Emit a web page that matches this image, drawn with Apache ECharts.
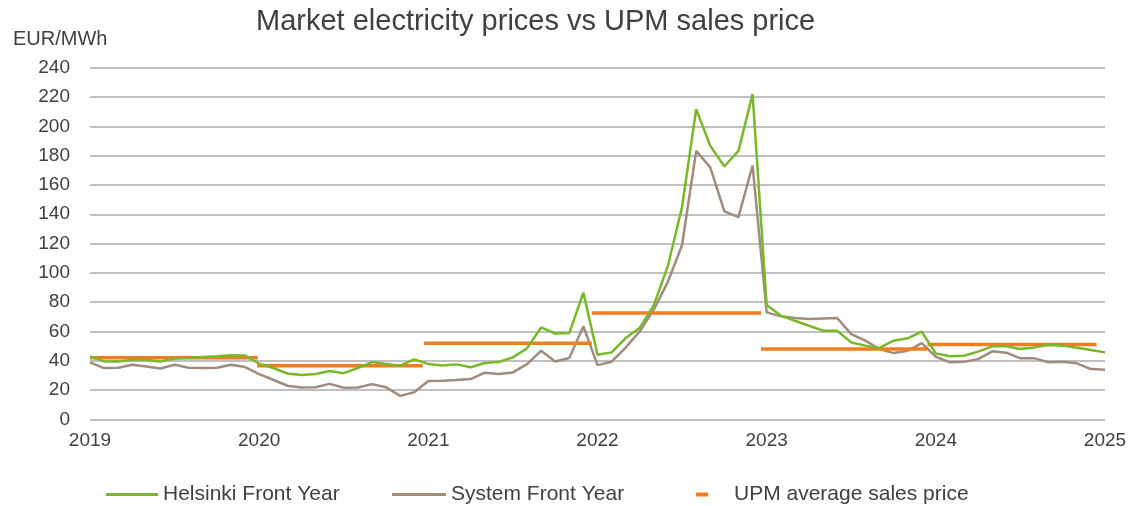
<!DOCTYPE html>
<html>
<head>
<meta charset="utf-8">
<script src="https://cdn.jsdelivr.net/npm/echarts@6/dist/echarts.min.js"></script>
<style>
  html, body { margin: 0; padding: 0; background: #fff; }
  #chart { width: 1130px; height: 506px; }
</style>
</head>
<body>
<div id="chart"></div>
<script>
// monthly points, Jan 2019 .. Jan 2025 (index 0 = Jan 2019)
const startYear = 2019
const yearTicks = [2019, 2020, 2021, 2022, 2023, 2024, 2025]

const helsinki = [
  43, 39.5, 39.5, 40.5, 40.5, 39.5, 41.5, 42, 42.5, 43, 43.8, 43.5,
  38, 35, 31.3, 30.2, 30.9, 33, 31.5, 35, 39.1, 37.7, 36.6, 40.9,
  37.7, 36.8, 37.5, 35.5, 38.4, 39.1, 42.3, 48.4, 62.7, 58.6, 58.9, 86.5,
  44.1, 45.7, 55.5, 62.5, 78, 105, 145, 211.7, 186.8, 172.6, 183.3, 222,
  78, 70.8, 67.3, 63.9, 60.5, 60.5, 52.5, 50.3, 48.7, 53.7, 55.3, 59.8,
  45, 43, 43.4, 46.2, 49.8, 49.8, 48, 49.1, 50.9, 50.3, 48.9, 47.3,
  45.7
]

const systemPrice = [
  38.9, 35, 35.2, 37.3, 36.1, 34.7, 37.3, 35.2, 35, 35.2, 37.3, 35.7,
  30.9, 27, 22.9, 21.7, 21.9, 24.2, 21.5, 21.7, 24, 21.9, 16, 18.5,
  26.1, 26.4, 26.8, 27.5, 31.8, 30.9, 32, 37.7, 46.8, 39.5, 41.8, 63.5,
  37, 39.3, 49, 60, 75, 94, 119, 183.3, 172, 142, 138, 173.3,
  73, 70.3, 69.2, 68.5, 68.9, 69.2, 58.2, 53.7, 48, 45.2, 46.8, 52,
  42.7, 38.9, 39.3, 41.1, 46.4, 45.5, 41.6, 41.6, 38.9, 39.3, 38.2, 34.3,
  33.8
]

// UPM yearly average, with the month span each bar covers
const upmPrice = [42, 36.5, 52, 72.5, 48, 51]
const upmSpans = [[0, 11.9], [11.85, 23.6], [23.7, 35.6], [35.6, 47.6], [47.6, 59.4], [59.4, 71.4]]

const chart = echarts.init(document.getElementById('chart'))

const txt = '#404040'
const font = 'Liberation Sans, Arial, sans-serif'
const green = '#78b82a'
const brown = '#a08c7c'
const orange = '#f07d22'

const upmSeries = upmPrice.map((v, k) => ({
  name: 'UPM average sales price',
  type: 'line',
  symbol: 'none',
  silent: true,
  lineStyle: { color: orange, width: 3.5 },
  itemStyle: { color: orange },
  data: [[upmSpans[k][0], v], [upmSpans[k][1], v]],
  z: 3
}))

const option = {
  backgroundColor: '#fff',
  animation: false,
  textStyle: { fontFamily: font },
  title: [
    {
      text: 'Market electricity prices vs UPM sales price',
      left: 251, top: 2,
      textStyle: { fontSize: 29, fontWeight: 'normal', color: txt, fontFamily: font }
    },
    {
      text: 'EUR/MWh',
      left: 8, top: 24,
      textStyle: { fontSize: 20, fontWeight: 'normal', color: txt, fontFamily: font }
    }
  ],
  legend: [
    {
      data: [{ name: 'Helsinki Front Year', icon: 'rect', itemStyle: { color: green } }],
      left: 101, top: 479,
      itemWidth: 52, itemHeight: 3,
      textStyle: { fontSize: 21, color: txt, fontFamily: font }
    },
    {
      data: [{ name: 'System Front Year', icon: 'rect', itemStyle: { color: brown } }],
      left: 387, top: 479,
      itemWidth: 54, itemHeight: 3,
      textStyle: { fontSize: 21, color: txt, fontFamily: font }
    },
    {
      data: [{ name: 'UPM average sales price', icon: 'rect' }],
      left: 691, top: 479,
      itemWidth: 12, itemHeight: 4,
      textStyle: { fontSize: 21, color: txt, fontFamily: font, padding: [0, 0, 0, 21] }
    }
  ],
  grid: {
    left: 90, right: 25, top: 67.8, bottom: 86.7,
    containLabel: false,
    outerBoundsMode: 'none'
  },
  xAxis: {
    type: 'value',
    min: 0, max: 72, interval: 12,
    axisLine: { show: false },
    axisTick: { show: false },
    splitLine: { show: false },
    axisLabel: {
      color: txt, fontSize: 19, margin: 12,
      formatter: v => String(startYear + v / 12)
    }
  },
  yAxis: {
    type: 'value',
    min: 0, max: 240, interval: 20,
    axisLine: { show: false },
    axisTick: { show: false },
    axisLabel: { color: txt, fontSize: 19, margin: 20 },
    splitLine: { lineStyle: { color: '#c0c0c0', width: 2 } }
  },
  series: [
    {
      name: 'Helsinki Front Year',
      type: 'line',
      symbol: 'none',
      lineStyle: { color: green, width: 2.5 },
      itemStyle: { color: green },
      data: helsinki.map((v, i) => [i, v]),
      z: 4
    },
    {
      name: 'System Front Year',
      type: 'line',
      symbol: 'none',
      lineStyle: { color: brown, width: 2.5 },
      itemStyle: { color: brown },
      data: systemPrice.map((v, i) => [i, v]),
      z: 3
    },
    ...upmSeries
  ]
}

chart.setOption(option)
</script>
</body>
</html>
